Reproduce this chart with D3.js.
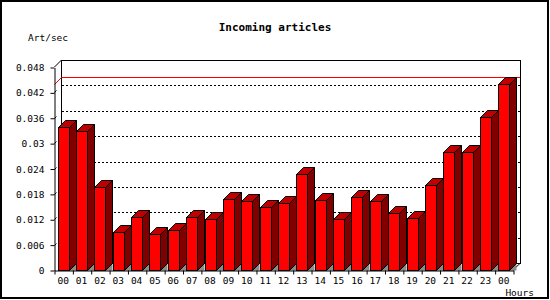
<!DOCTYPE html>
<html>
<head>
<meta charset="utf-8">
<script src="https://cdn.jsdelivr.net/npm/d3@7"></script>
<style>
html,body{margin:0;padding:0;background:#fff;}
svg{display:block;}
text{font-family:"DejaVu Sans Mono",monospace;fill:#000;}
</style>
</head>
<body>
<div id="chart"></div>
<script>
const categories = ["00","01","02","03","04","05","06","07","08","09","10","11","12","13","14","15","16","17","18","19","20","21","22","23","00"];
const values = [0.0337,0.0329,0.0196,0.0089,0.0125,0.0085,0.0094,0.0125,0.0120,0.0167,0.0162,0.0148,0.0158,0.0226,0.0165,0.0120,0.0172,0.0162,0.0134,0.0122,0.0200,0.0278,0.0278,0.0361,0.0439];
const yTicks = [0,0.006,0.012,0.018,0.024,0.03,0.036,0.042,0.048];
const yTickLabels = ["0","0.006","0.012","0.018","0.024","0.03","0.036","0.042","0.048"];
const title = "Incoming articles";
const yTitle = "Art/sec";
const xTitle = "Hours";

const W = 550, H = 300;
const L = 54, R = 513, B = 270, T = 67, D = 7;

const svg = d3.select("#chart").append("svg").attr("width", W).attr("height", H);
svg.append("rect").attr("x",0).attr("y",0).attr("width",W).attr("height",H).attr("fill","#fff");
svg.append("rect").attr("x",1).attr("y",1).attr("width",W-3).attr("height",H-3)
  .attr("fill","none").attr("stroke","#000").attr("stroke-width",2);

const y = d3.scaleLinear().domain([0, 0.048]).range([B, T]);
const idx = d3.range(categories.length);
const x = d3.scaleBand().domain(idx).range([L, R]).paddingInner(0.4).paddingOuter(0.2);
const xLin = d3.scaleLinear().domain([0, categories.length]).range([L, R]);

// back wall
svg.append("rect").attr("x", L + D + 0.5).attr("y", T - D + 0.5)
  .attr("width", R - L).attr("height", B - T)
  .attr("fill","#fff").attr("stroke","#000").attr("stroke-width",1);

// grid lines on back wall
svg.append("g").selectAll("line").data(yTicks.slice(1, -1)).join("line")
  .attr("x1", L + D + 1).attr("x2", R + D)
  .attr("y1", d => Math.round(y(d)) - D + 0.5).attr("y2", d => Math.round(y(d)) - D + 0.5)
  .attr("stroke","#000").attr("stroke-dasharray","2,2").attr("shape-rendering","crispEdges");

// max line
const vmax = d3.max(values);
const ym = Math.round(y(vmax));
svg.append("line").attr("x1", L + D + 1).attr("x2", R + D).attr("y1", ym - D + 0.5).attr("y2", ym - D + 0.5)
  .attr("stroke","#ff0000").attr("stroke-width",1).attr("shape-rendering","crispEdges");
svg.append("line").attr("x1", L + 0.5).attr("y1", ym + 0.5).attr("x2", L + D + 0.5).attr("y2", ym - D + 0.5)
  .attr("stroke","#ff0000").attr("stroke-width",1);

// connectors front axis to back wall
svg.append("path").attr("d", `M${L + 0.5},${T}L${L + D + 0.5},${T - D}`).attr("stroke","#000").attr("fill","none");
svg.append("path").attr("d", `M${R},${B}L${R + D + 0.5},${B - D}`).attr("stroke","#000").attr("fill","none");
svg.append("g").selectAll("path").data(yTicks.slice(1, -1)).join("path")
  .attr("d", d => `M${L + 0.5},${Math.round(y(d)) + 0.5}L${L + 2.5},${Math.round(y(d)) - 1.5}`)
  .attr("stroke","#000").attr("fill","none");

// bars
const bw = x.bandwidth();
const bars = svg.append("g").selectAll("g").data(values).join("g");
bars.each(function(v, i) {
  const g = d3.select(this);
  const x0 = Math.round(x(i)) + 0.5, x1 = Math.round(x(i) + bw) + 0.5;
  const yt = Math.round(y(v)) + 0.5, yb = B + 0.5;
  g.append("path").attr("d", `M${x1},${yb}L${x1 + D},${yb - D}L${x1 + D},${yb}Z`).attr("fill","#8c8c8c").attr("stroke","none");
  g.append("path").attr("d", `M${x1},${yt}L${x1 + D},${yt - D}L${x1 + D},${yb - D}L${x1},${yb}Z`)
    .attr("fill","#800000").attr("stroke","#000");
  g.append("path").attr("d", `M${x0},${yt}L${x0 + D},${yt - D}L${x1 + D},${yt - D}L${x1},${yt}Z`)
    .attr("fill","#c00000").attr("stroke","#000");
  g.append("rect").attr("x", x0).attr("y", yt).attr("width", x1 - x0).attr("height", yb - yt)
    .attr("fill","#ff0000").attr("stroke","#000");
});

// y axis
const yAxis = d3.axisLeft(y).tickValues(yTicks).tickFormat((d, i) => yTickLabels[i]).tickSize(4).tickPadding(6).tickSizeOuter(0);
const ga = svg.append("g").attr("transform", `translate(${L + 0.5},0.5)`).call(yAxis);
ga.select(".domain").attr("stroke","#000");
ga.selectAll("line").attr("stroke","#000");
ga.selectAll("text").attr("font-size","9.5px").attr("fill","#000").attr("font-family","DejaVu Sans Mono");

// x axis
const xAxis = d3.axisBottom(xLin).tickValues(d3.range(categories.length + 1)).tickFormat("").tickSize(4).tickSizeOuter(0);
const gx = svg.append("g").attr("transform", `translate(0.5,${B + 0.5})`).call(xAxis);
gx.select(".domain").attr("stroke","#000");
gx.selectAll("line").attr("stroke","#000");
svg.append("g").selectAll("text").data(categories).join("text")
  .attr("x", (d, i) => x(i) + bw / 2).attr("y", 284)
  .attr("text-anchor","middle").attr("font-size","9.5px").text(d => d);

// titles
svg.append("text").attr("x", 275).attr("y", 31).attr("text-anchor","middle")
  .attr("font-size","11px").attr("font-weight","bold").text(title);
svg.append("text").attr("x", 28).attr("y", 41).attr("font-size","9.5px").text(yTitle);
svg.append("text").attr("x", 534).attr("y", 296).attr("text-anchor","end").attr("font-size","9.5px").text(xTitle);
</script>
</body>
</html>
